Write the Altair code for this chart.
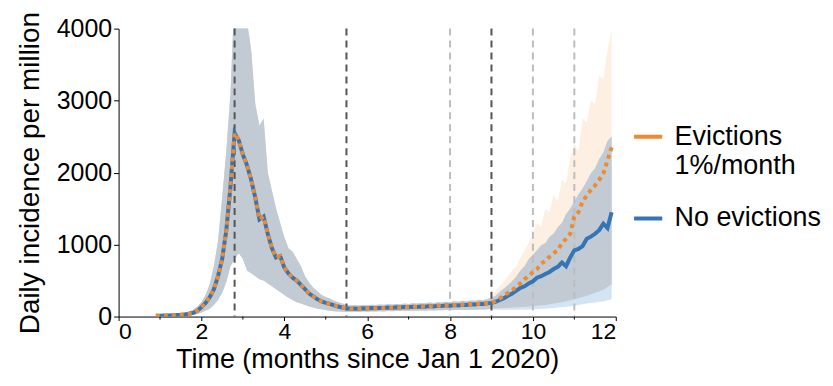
import altair as alt
import pandas as pd
import numpy as np

# time grid (months since Jan 1 2020)
months = [0.9, 1.0, 1.1, 1.2, 1.3, 1.4, 1.5, 1.6, 1.7, 1.8, 1.9,
          2.0, 2.1, 2.2, 2.3, 2.4, 2.5, 2.6, 2.7, 2.8, 2.9,
          3.0, 3.1, 3.2, 3.3, 3.4, 3.5, 3.6, 3.7, 3.8, 3.9,
          4.0, 4.1, 4.2, 4.3, 4.4, 4.5, 4.6, 4.7, 4.8, 4.9,
          5.0, 5.1, 5.2, 5.3, 5.4, 5.5, 5.6, 5.7, 5.8, 5.9,
          6.0, 6.1, 6.2, 6.3, 6.4, 6.5, 6.6, 6.7, 6.8, 6.9,
          7.0, 7.1, 7.2, 7.3, 7.4, 7.5, 7.6, 7.7, 7.8, 7.9,
          8.0, 8.1, 8.2, 8.3, 8.4, 8.5, 8.6, 8.7, 8.8, 8.9,
          9.0, 9.1, 9.2, 9.3, 9.4, 9.5, 9.6, 9.7, 9.8, 9.9,
          10.0, 10.1, 10.2, 10.3, 10.4, 10.5, 10.6, 10.7, 10.8, 10.9,
          11.0, 11.1, 11.2, 11.3, 11.4, 11.5, 11.6, 11.7, 11.8, 11.9]

# No evictions: mean, lower, upper
noev_mean = [10, 12, 14, 15, 18, 22, 25, 30, 38, 50, 80,
             130, 190, 270, 380, 560, 800, 1200, 1800, 2550, 2450,
             2250, 2100, 1900, 1650, 1350, 1390, 1150, 950, 820, 840,
             680, 600, 540, 500, 440, 380, 320, 280, 240, 210,
             190, 175, 155, 140, 125, 115, 110, 112, 108, 115,
             112, 118, 115, 120, 118, 125, 120, 128, 125, 132,
             128, 135, 132, 140, 136, 145, 140, 150, 146, 155,
             150, 160, 155, 165, 160, 170, 168, 178, 175, 185,
             190, 205, 230, 255, 290, 320, 360, 400, 420, 460,
             490, 540, 560, 590, 620, 660, 690, 750, 700, 820,
             920, 940, 980, 1080, 1110, 1150, 1200, 1290, 1230, 1450]
noev_lo = [5, 6, 7, 8, 9, 10, 12, 14, 17, 22, 35,
           55, 80, 110, 160, 230, 330, 480, 700, 800, 880,
           800, 640, 600, 560, 520, 500, 460, 420, 380, 340,
           300, 260, 230, 200, 180, 160, 140, 125, 110, 100,
           90, 80, 75, 70, 68, 65, 66, 68, 65, 70,
           68, 72, 70, 74, 72, 76, 74, 78, 76, 80,
           78, 82, 80, 84, 82, 86, 84, 88, 86, 90,
           88, 92, 90, 94, 92, 96, 95, 98, 97, 100,
           100, 98, 96, 95, 95, 95, 96, 97, 98, 99,
           100, 104, 108, 110, 115, 120, 125, 130, 135, 142,
           150, 160, 170, 180, 190, 195, 205, 210, 225, 240]
noev_hi = [15, 18, 22, 25, 30, 36, 45, 55, 70, 95, 140,
           200, 300, 450, 700, 1050, 1650, 2300, 3100, 4500, 4800,
           4600, 4100, 3700, 2950, 2650, 2750, 2000, 1750, 1500, 1300,
           1100, 950, 900, 800, 700, 560, 470, 400, 350, 300,
           270, 250, 220, 200, 180, 160, 155, 158, 152, 160,
           158, 165, 160, 168, 165, 172, 168, 176, 172, 180,
           176, 185, 180, 190, 186, 196, 190, 200, 196, 206,
           200, 212, 206, 218, 212, 224, 220, 232, 228, 245,
           260, 290, 340, 390, 440, 490, 560, 640, 700, 800,
           860, 920, 990, 1020, 1110, 1150, 1240, 1300, 1420, 1500,
           1600, 1700, 1780, 1880, 1990, 2060, 2190, 2280, 2440, 2500]

# Evictions 1%/month: mean, lower, upper
ev_mean = [10, 12, 14, 15, 18, 22, 25, 30, 38, 50, 80,
           130, 190, 270, 380, 560, 800, 1200, 1800, 2550, 2450,
           2250, 2100, 1900, 1650, 1350, 1390, 1150, 950, 820, 840,
           680, 600, 540, 500, 440, 380, 320, 280, 240, 210,
           190, 175, 155, 140, 125, 115, 110, 112, 108, 115,
           112, 118, 115, 120, 118, 125, 120, 128, 125, 132,
           128, 135, 132, 140, 136, 145, 140, 150, 146, 155,
           150, 160, 155, 165, 160, 170, 168, 178, 175, 185,
           190, 215, 250, 290, 330, 360, 420, 460, 520, 560,
           620, 660, 740, 770, 830, 880, 920, 1020, 1080, 1150,
           1390, 1450, 1600, 1680, 1760, 1820, 1900, 1990, 2170, 2350]
ev_lo = [5, 6, 7, 8, 9, 10, 12, 14, 17, 22, 35,
         55, 80, 110, 160, 230, 330, 480, 700, 800, 880,
         800, 640, 600, 560, 520, 500, 460, 420, 380, 340,
         300, 260, 230, 200, 180, 160, 140, 125, 110, 100,
         90, 80, 75, 70, 68, 65, 66, 68, 65, 70,
         68, 72, 70, 74, 72, 76, 74, 78, 76, 80,
         78, 82, 80, 84, 82, 86, 84, 88, 86, 90,
         88, 92, 90, 94, 92, 96, 95, 98, 97, 100,
         110, 112, 115, 118, 122, 125, 128, 132, 136, 140,
         145, 150, 156, 162, 170, 180, 190, 200, 212, 225,
         240, 255, 270, 290, 310, 330, 350, 370, 410, 450]
ev_hi = [15, 18, 22, 25, 30, 36, 45, 55, 70, 95, 140,
         200, 300, 450, 700, 1050, 1650, 2300, 3100, 4500, 4800,
         4600, 4100, 3700, 2950, 2650, 2750, 2000, 1750, 1500, 1300,
         1100, 950, 900, 800, 700, 560, 470, 400, 350, 300,
         270, 250, 220, 200, 180, 160, 155, 158, 152, 160,
         158, 165, 160, 168, 165, 172, 168, 176, 172, 180,
         176, 185, 180, 190, 186, 196, 190, 200, 196, 206,
         200, 212, 206, 218, 212, 224, 220, 232, 228, 245,
         260, 360, 420, 480, 560, 640, 700, 820, 920, 1020,
         1150, 1300, 1250, 1500, 1450, 1700, 1600, 1900, 1850, 2200,
         2400, 2300, 2750, 2700, 3000, 2950, 3350, 3300, 3700, 3980]

series_names = ["Evictions\n1%/month", "No evictions"]
series_colors = ["#ee8a30", "#3574b5"]

dark_events = [2.8, 5.5, 9]
light_events = [8, 10, 11]
minor_ticks = [1, 3, 5, 7, 9, 11]

df = pd.DataFrame({
    "t": months,
    "nm": noev_mean, "nlo": noev_lo, "nhi": noev_hi,
    "em": ev_mean, "elo": ev_lo, "ehi": ev_hi,
})
df["olo"] = np.maximum(df["nlo"], df["elo"])
df["ohi"] = np.minimum(df["nhi"], df["ehi"])

line_df = pd.concat([
    pd.DataFrame({"t": months, "v": noev_mean, "series": series_names[1]}),
    pd.DataFrame({"t": months, "v": ev_mean, "series": series_names[0]}),
])

xs = alt.Scale(domain=[0, 12], nice=False)
ys = alt.Scale(domain=[0, 4000], nice=False)
color_scale = alt.Scale(domain=series_names, range=series_colors)

X = alt.X("t:Q", scale=xs,
          axis=alt.Axis(values=[0, 2, 4, 6, 8, 10, 12], title="Time (months since Jan 1 2020)",
                        labelFontSize=23, labelPadding=0, tickSize=4, titleFontSize=27,
                        titleY=30, titleBaseline="top"))
Y_ax = alt.Axis(values=[0, 1000, 2000, 3000, 4000], format="d",
                title="Daily incidence per million",
                titleX=-80, titleBaseline="alphabetic")

base = alt.Chart(df)

band_ev = base.mark_area(color="#fdefe2", clip=True).encode(
    x=X, y=alt.Y("elo:Q", scale=ys, axis=Y_ax), y2="ehi:Q")
band_no = base.mark_area(color="#d3e4f4", clip=True).encode(
    x="t:Q", y="nlo:Q", y2="nhi:Q")
band_ov = base.mark_area(color="#c2cbd3", clip=True).encode(
    x="t:Q", y="olo:Q", y2="ohi:Q")

dark_rules = alt.Chart(pd.DataFrame({"t": dark_events})).mark_rule(
    color="#555555", strokeWidth=2, strokeDash=[7, 5]).encode(x="t:Q")
light_rules = alt.Chart(pd.DataFrame({"t": light_events})).mark_rule(
    color="#bdbdbd", strokeWidth=2, strokeDash=[7, 5]).encode(x="t:Q")

minor = alt.Chart(pd.DataFrame({"t": minor_ticks})).mark_rule(
    color="black", strokeWidth=1, clip=False).encode(
    x="t:Q", y=alt.value(289), y2=alt.value(292))

legend = alt.Legend(title=None, orient="none", legendX=515, legendY=92,
                    symbolType="stroke", symbolStrokeWidth=4, symbolSize=800,
                    symbolDash=[1, 0], labelFontSize=27, labelLimit=0,
                    labelOffset=10, rowPadding=23,
                    labelExpr="split(datum.label, '\\n')")

blue_line = alt.Chart(line_df).transform_filter(
    alt.datum.series == series_names[1]).mark_line(strokeWidth=4, clip=True).encode(
    x="t:Q", y="v:Q",
    color=alt.Color("series:N", scale=color_scale, legend=legend))
orange_line = alt.Chart(line_df).transform_filter(
    alt.datum.series == series_names[0]).mark_line(strokeWidth=4, strokeDash=[4, 4], clip=True).encode(
    x="t:Q", y="v:Q",
    color=alt.Color("series:N", scale=color_scale, legend=legend))

chart = alt.layer(
    band_ev, band_no, band_ov, light_rules, dark_rules, minor, blue_line, orange_line
).properties(
    width=499, height=289,
    autosize=alt.AutoSizeParams(type="none"),
    padding={"left": 111, "top": 20, "right": 210, "bottom": 68},
).configure_view(stroke=None).configure_axis(
    domainColor="black", tickColor="black", grid=False,
    labelFont="Liberation Sans", titleFont="Liberation Sans",
    labelFontSize=25, titleFontSize=28, labelColor="black", titleColor="black",
    titleFontWeight="normal", tickSize=5, labelPadding=2, titlePadding=4,
).configure_legend(labelFont="Liberation Sans", labelColor="black")

chart.save("out.html", embed_options={"renderer": "svg", "actions": False})
